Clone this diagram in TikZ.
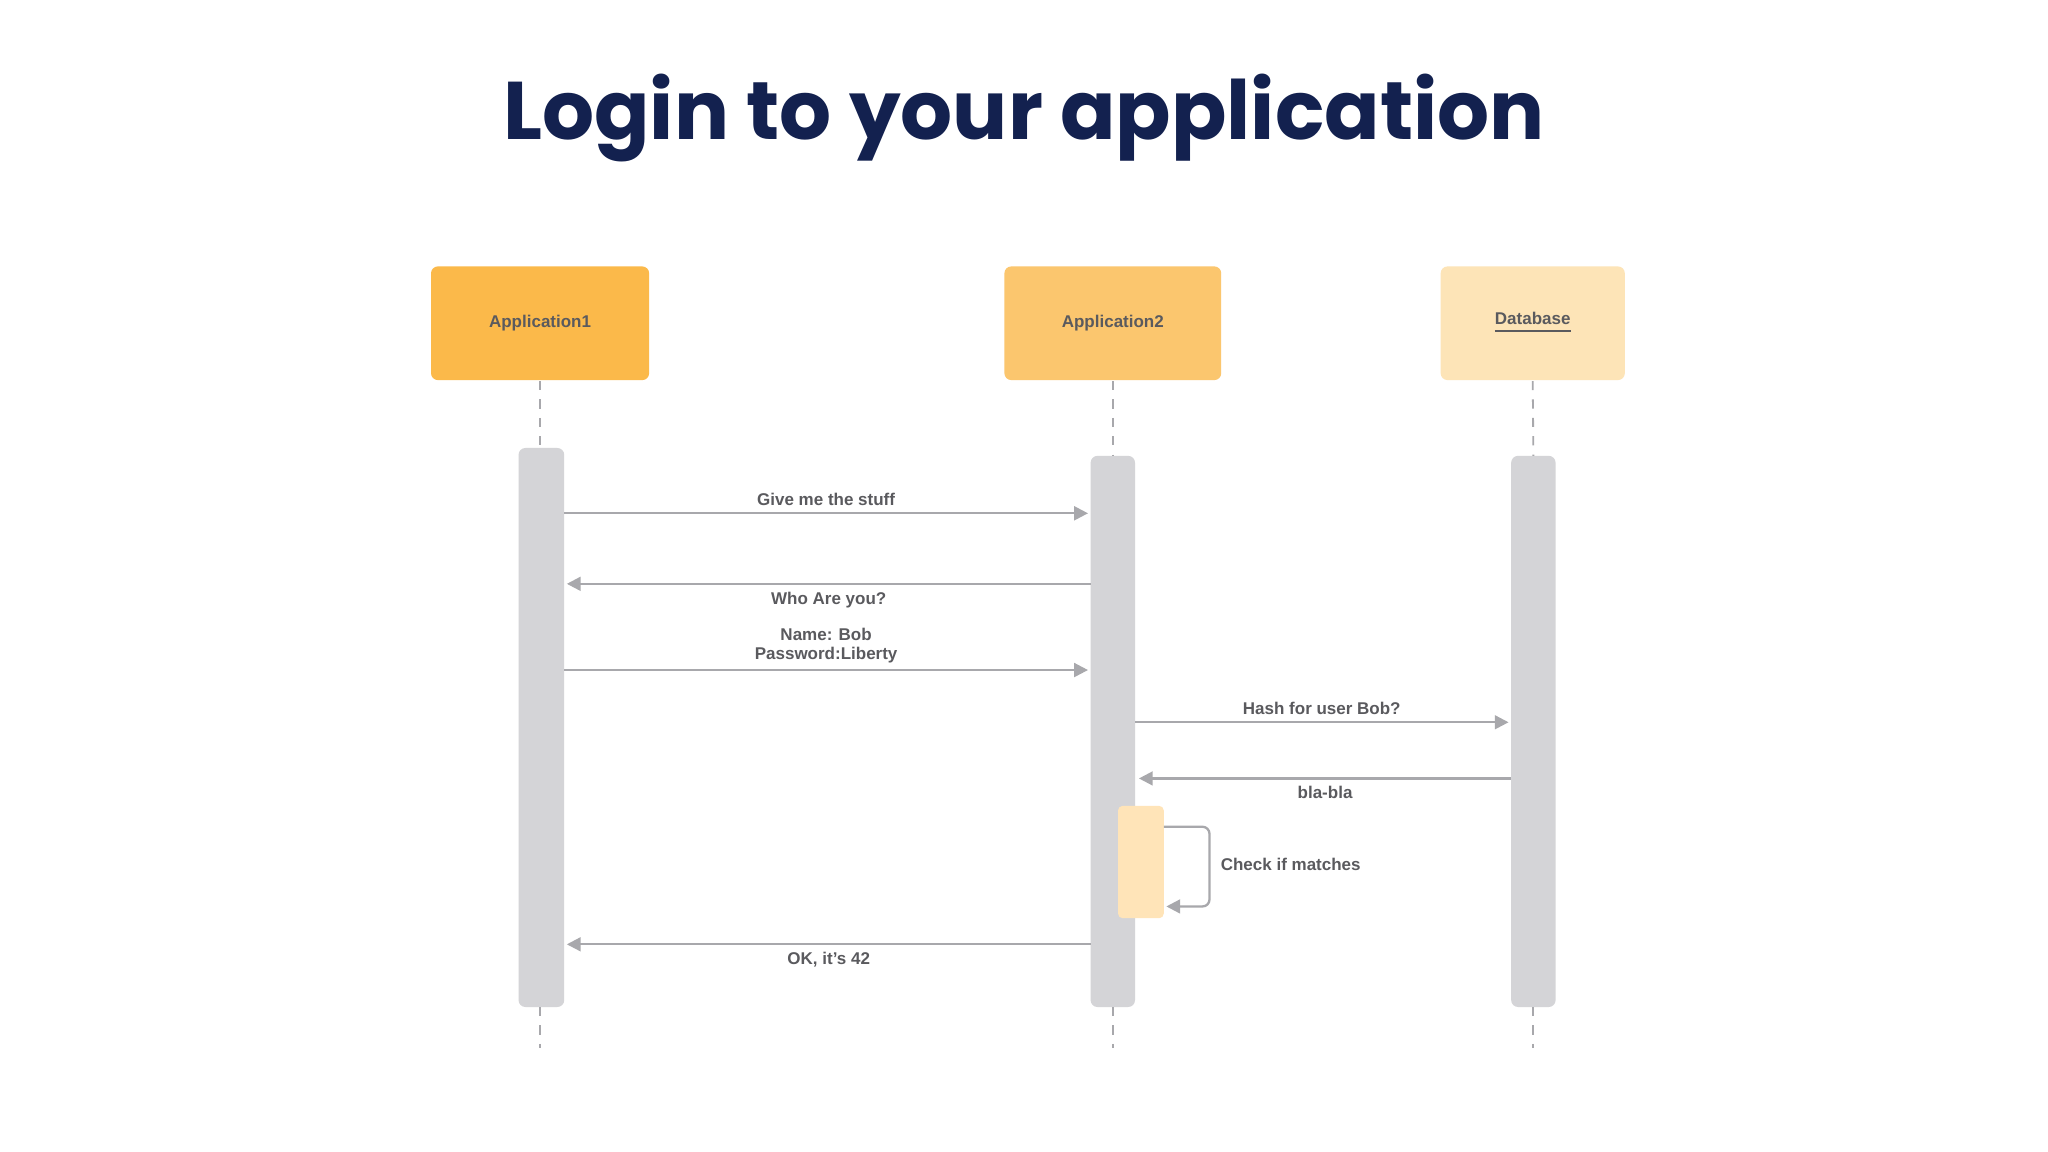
\documentclass[tikz,border=0pt]{standalone}
\usepackage{fontspec}
\setmainfont{Liberation Sans}
\newfontfamily\titlefont{Poppins}
\usetikzlibrary{arrows.meta}
\definecolor{navy}{HTML}{13214F}
\definecolor{barg}{HTML}{D4D4D7}
\definecolor{msg}{HTML}{A8A8AC}
\definecolor{txt}{HTML}{5A5A5E}
\definecolor{c1}{RGB}{251,185,74}
\definecolor{c2}{RGB}{251,198,110}
\definecolor{c3}{RGB}{253,228,183}
\definecolor{c4}{RGB}{255,228,184}
\begin{document}
\begin{tikzpicture}[x=0.01cm,y=-0.01cm,
  lbl/.style={font=\fontsize{3.7}{4.2}\selectfont\bfseries, text=txt, inner sep=0pt, align=center},
  head/.style={rounded corners=1.5pt, draw=none, minimum width=#1*0.01cm, minimum height=0.87cm, inner sep=0pt, font=\fontsize{3.7}{4.4}\selectfont\bfseries, text=txt},
  bar/.style={fill=barg, rounded corners=1.5pt},
  life/.style={draw=msg, line width=0.4pt, dash pattern=on 2pt off 2pt},
  m/.style={draw=msg, line width=0.5pt, -{Triangle[length=3pt,width=3pt]}}]
\useasboundingbox (0,0) rectangle (1568,882);
\fill[white] (0,0) rectangle (1568,882);
\node[font=\titlefont\bfseries\fontsize{17.8}{20}\selectfont, text=navy] (title) at (784,90) {Login to your application};
% heads
\node[head=167, fill=c1] (h1) at (413.5,247.5) {Application1};
\node[head=166, fill=c2] (h2) at (852,247.5) {Application2};
\node[head=141, fill=c3] (h3) at (1173.5,247.5) {\underline{Database}};
% bars
\fill[bar] (397,343) rectangle (432,771);
\fill[bar] (835,349) rectangle (869,771);
\fill[bar] (1157,349) rectangle (1191,771);
\coordinate (b1t) at (413.5,343); \coordinate (b1b) at (413.5,771);
\coordinate (b2t) at (852,349); \coordinate (b2b) at (852,771);
\coordinate (b3t) at (1174,349); \coordinate (b3b) at (1174,771);
\coordinate (e1) at (413.5,802); \coordinate (e2) at (852,802); \coordinate (e3) at (1174,802);
\draw[life] (h1.south) -- (b1t); \draw[life] (b1b) -- (e1);
\draw[life] (h2.south) -- (b2t); \draw[life] (b2b) -- (e2);
\draw[life] (h3.south) -- (b3t); \draw[life] (b3b) -- (e3);
% messages
\coordinate (a1) at (432,393); \coordinate (a2) at (833,393);
\draw[m] (a1) -- node[lbl, above=1.5pt] {Give me the stuff} (a2);
\coordinate (cc1) at (835,447); \coordinate (cc2) at (434,447);
\draw[m] (cc1) -- node[lbl, below=1.5pt] {Who Are you?} (cc2);
\coordinate (d1) at (432,513); \coordinate (d2) at (833,513);
\draw[m] (d1) -- node[lbl, above=1.2pt] {Name: Bob\\Password:Liberty} (d2);
\coordinate (f1) at (869,553); \coordinate (f2) at (1155,553);
\draw[m] (f1) -- node[lbl, above=1.5pt] {Hash for user Bob?} (f2);
\coordinate (g1) at (1157,596); \coordinate (g2) at (872,596);
\draw[m] (g1) -- node[lbl, below=1.5pt] {bla-bla} (g2);
% self
\fill[c4, rounded corners=1pt] (856,617) rectangle (891,703);
\coordinate (s1) at (891,633); \coordinate (s2) at (893,694);
\draw[m, rounded corners=1.5pt] (s1) -- (926,633) -- (926,694) -- (s2);
\node[lbl, anchor=west] (chk) at (934,662) {Check if matches};
\coordinate (k1) at (835,723); \coordinate (k2) at (434,723);
\draw[m] (k1) -- node[lbl, below=1.5pt] {OK, it's 42} (k2);
\end{tikzpicture}
\end{document}
